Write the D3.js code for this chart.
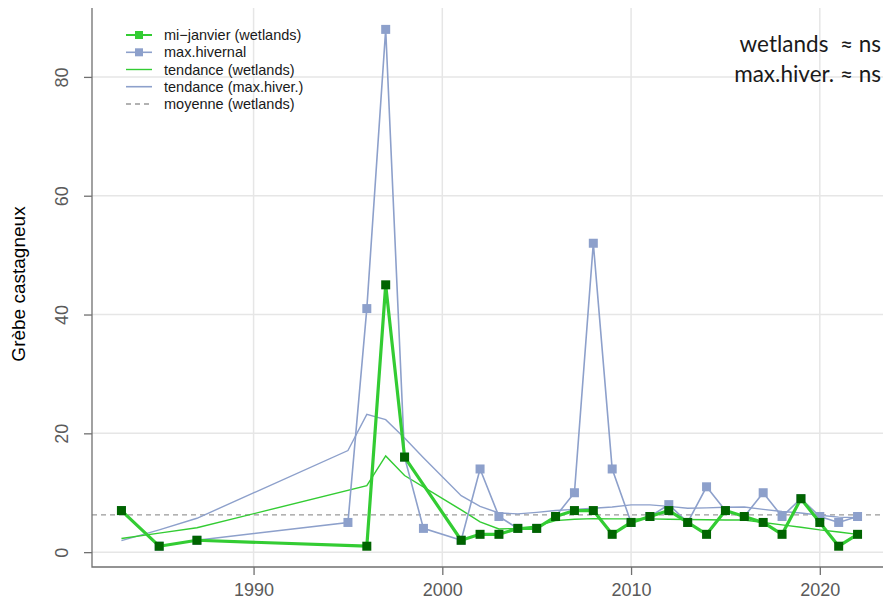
<!DOCTYPE html>
<html>
<head>
<meta charset="utf-8">
<script src="https://cdn.jsdelivr.net/npm/d3@7"></script>
<style>
  html, body { margin: 0; padding: 0; background: #fff; }
  svg { display: block; }
</style>
</head>
<body>
<svg id="chart" width="883" height="613"></svg>
<script>
// ---------------- data ----------------
const yearsWetlands = [1983, 1985, 1987, 1996, 1997, 1998, 2001, 2002, 2003, 2004, 2005, 2006, 2007, 2008, 2009, 2010, 2011, 2012, 2013, 2014, 2015, 2016, 2017, 2018, 2019, 2020, 2021, 2022];
const wetlands = [7, 1, 2, 1, 45, 16, 2, 3, 3, 4, 4, 6, 7, 7, 3, 5, 6, 7, 5, 3, 7, 6, 5, 3, 9, 5, 1, 3];
const trendWetlands = [2.3, 3.2, 4.1, 11.2, 16.2, 12.9, 7.1, 5.1, 3.9, 4.0, 4.4, 5.3, 5.55, 5.65, 5.6, 5.6, 5.6, 5.55, 5.5, 5.45, 5.4, 5.4, 5.0, 4.6, 4.2, 3.75, 3.4, 3.0];

const yearsMaxHiv = [1983, 1985, 1987, 1995, 1996, 1997, 1998, 1999, 2001, 2002, 2003, 2004, 2005, 2006, 2007, 2008, 2009, 2010, 2011, 2012, 2013, 2014, 2015, 2016, 2017, 2018, 2019, 2020, 2021, 2022];
const maxHivernal = [7, 1, 2, 5, 41, 88, 16, 4, 2, 14, 6, 4, 4, 6, 10, 52, 14, 5, 6, 8, 5, 11, 7, 6, 10, 6, 9, 6, 5, 6];
const trendMaxHiv = [1.95, 3.75, 5.7, 17.1, 23.2, 22.3, 19.2, 15.9, 9.5, 7.7, 6.6, 6.45, 6.7, 7.0, 7.2, 7.4, 7.6, 7.95, 7.95, 7.7, 7.4, 7.45, 7.55, 7.6, 7.2, 6.85, 6.6, 6.2, 5.9, 5.8];

const xTicks = [1990, 2000, 2010, 2020];
const yTicks = [0, 20, 40, 60, 80];
const legendLabels = ["mi\u2212janvier (wetlands)", "max.hivernal", "tendance (wetlands)", "tendance (max.hiver.)", "moyenne (wetlands)"];
const statLines = ["wetlands  \u2248 ns", "max.hiver. \u2248 ns"];
const yLabel = "Grèbe castagneux";

// ---------------- setup ----------------
const svg = d3.select("#chart");
const L = 92, R = 887, T = 8, B = 567;
const x = d3.scaleLinear().domain([1981.44, 2023.56]).range([L, R]);
const y = d3.scaleLinear().domain([-2.5, 91.6]).range([B, T]);

const cGreen = "#33cc33", cDark = "#006400", cBlue = "#8da0cb";
const fontSans = "'Liberation Sans', Arial, Helvetica, sans-serif";

svg.append("rect").attr("width", 883).attr("height", 613).attr("fill", "#fff");

// grid
const g = svg.append("g");
g.selectAll(".vg").data(xTicks).join("line")
  .attr("x1", d => x(d)).attr("x2", d => x(d)).attr("y1", T).attr("y2", B)
  .attr("stroke", "#e6e6e6").attr("stroke-width", 1.5);
g.selectAll(".hg").data(yTicks).join("line")
  .attr("x1", L).attr("x2", R).attr("y1", d => y(d)).attr("y2", d => y(d))
  .attr("stroke", "#e6e6e6").attr("stroke-width", 1.5);

// mean line
const meanW = d3.mean(wetlands);
svg.append("line").attr("x1", L).attr("x2", R).attr("y1", y(meanW)).attr("y2", y(meanW))
  .attr("stroke", "#999").attr("stroke-width", 1.3).attr("stroke-dasharray", "5,4");

const wData = yearsWetlands.map((yr, i) => ({ yr, v: wetlands[i], t: trendWetlands[i] }));
const mData = yearsMaxHiv.map((yr, i) => ({ yr, v: maxHivernal[i], t: trendMaxHiv[i] }));

const line = key => d3.line().x(d => x(d.yr)).y(d => y(d[key]));

// trends
svg.append("path").datum(mData).attr("d", line("t")).attr("fill", "none")
  .attr("stroke", cBlue).attr("stroke-width", 1.4);
svg.append("path").datum(wData).attr("d", line("t")).attr("fill", "none")
  .attr("stroke", cGreen).attr("stroke-width", 1.4);

// max hivernal
svg.append("path").datum(mData).attr("d", line("v")).attr("fill", "none")
  .attr("stroke", cBlue).attr("stroke-width", 1.6);
const sq = 9;
svg.selectAll(".mpt").data(mData).join("rect")
  .attr("x", d => x(d.yr) - sq / 2).attr("y", d => y(d.v) - sq / 2)
  .attr("width", sq).attr("height", sq).attr("fill", cBlue);

// wetlands
svg.append("path").datum(wData).attr("d", line("v")).attr("fill", "none")
  .attr("stroke", cGreen).attr("stroke-width", 3.2).attr("stroke-linejoin", "round");
svg.selectAll(".wpt").data(wData).join("rect")
  .attr("x", d => x(d.yr) - sq / 2).attr("y", d => y(d.v) - sq / 2)
  .attr("width", sq).attr("height", sq).attr("fill", cDark);

// box (L shape)
svg.append("path").attr("d", `M${L},${T}V${B}H${R}`).attr("fill", "none")
  .attr("stroke", "#707070").attr("stroke-width", 1.3);

// x axis
const xa = svg.append("g").attr("transform", `translate(0,${B})`)
  .call(d3.axisBottom(x).tickValues(xTicks).tickFormat(d3.format("d")).tickSize(8).tickPadding(8));
xa.select(".domain").remove();
xa.selectAll("line").attr("stroke", "#707070").attr("stroke-width", 1.3);
xa.selectAll("text").attr("fill", "#5a5a5a").style("font-family", fontSans).style("font-size", "18px");

// y axis
const ya = svg.append("g").attr("transform", `translate(${L},0)`)
  .call(d3.axisLeft(y).tickValues(yTicks).tickSize(8).tickPadding(8));
ya.select(".domain").remove();
ya.selectAll("line").attr("stroke", "#707070").attr("stroke-width", 1.3);
ya.selectAll("text").attr("fill", "#5a5a5a").style("font-family", fontSans).style("font-size", "18px")
  .attr("x", null).attr("dy", null)
  .attr("transform", "translate(-30,0) rotate(-90)")
  .attr("text-anchor", "middle").attr("dominant-baseline", "central");

// y label
svg.append("text").attr("transform", "translate(18,284) rotate(-90)")
  .attr("text-anchor", "middle").attr("dominant-baseline", "central")
  .style("font-family", fontSans).style("font-size", "19px").attr("fill", "#000")
  .text(yLabel);

// legend
const lg = svg.append("g");
const rowsY = [35, 52.3, 69.5, 86.7, 104];
const lx1 = 126, lx2 = 152, tx = 164;
legendLabels.forEach((lab, i) => {
  const yy = rowsY[i];
  const ln = lg.append("line").attr("x1", lx1).attr("x2", lx2).attr("y1", yy).attr("y2", yy);
  if (i === 0) ln.attr("stroke", cGreen).attr("stroke-width", 2);
  if (i === 1) ln.attr("stroke", cBlue).attr("stroke-width", 1.6);
  if (i === 2) ln.attr("stroke", cGreen).attr("stroke-width", 1.4);
  if (i === 3) ln.attr("stroke", cBlue).attr("stroke-width", 1.6);
  if (i === 4) ln.attr("stroke", "#999").attr("stroke-width", 1.3).attr("stroke-dasharray", "5,4");
  if (i === 0 || i === 1) {
    lg.append("rect").attr("x", (lx1 + lx2) / 2 - 4).attr("y", yy - 4).attr("width", 8).attr("height", 8)
      .attr("fill", i === 0 ? cGreen : cBlue);
  }
  lg.append("text").attr("x", tx).attr("y", yy).attr("dominant-baseline", "central")
    .style("font-family", fontSans).style("font-size", "14.5px").attr("fill", "#1a1a1a").text(lab);
});

// stats text
statLines.forEach((s, i) => {
  svg.append("text").attr("x", 881).attr("y", 52 + i * 29.5).attr("text-anchor", "end")
    .style("font-family", "Lato, 'Open Sans', sans-serif").style("font-size", "22.5px")
    .attr("fill", "#1a1a1a").style("white-space", "pre").attr("xml:space", "preserve").text(s);
});
</script>
</body>
</html>
